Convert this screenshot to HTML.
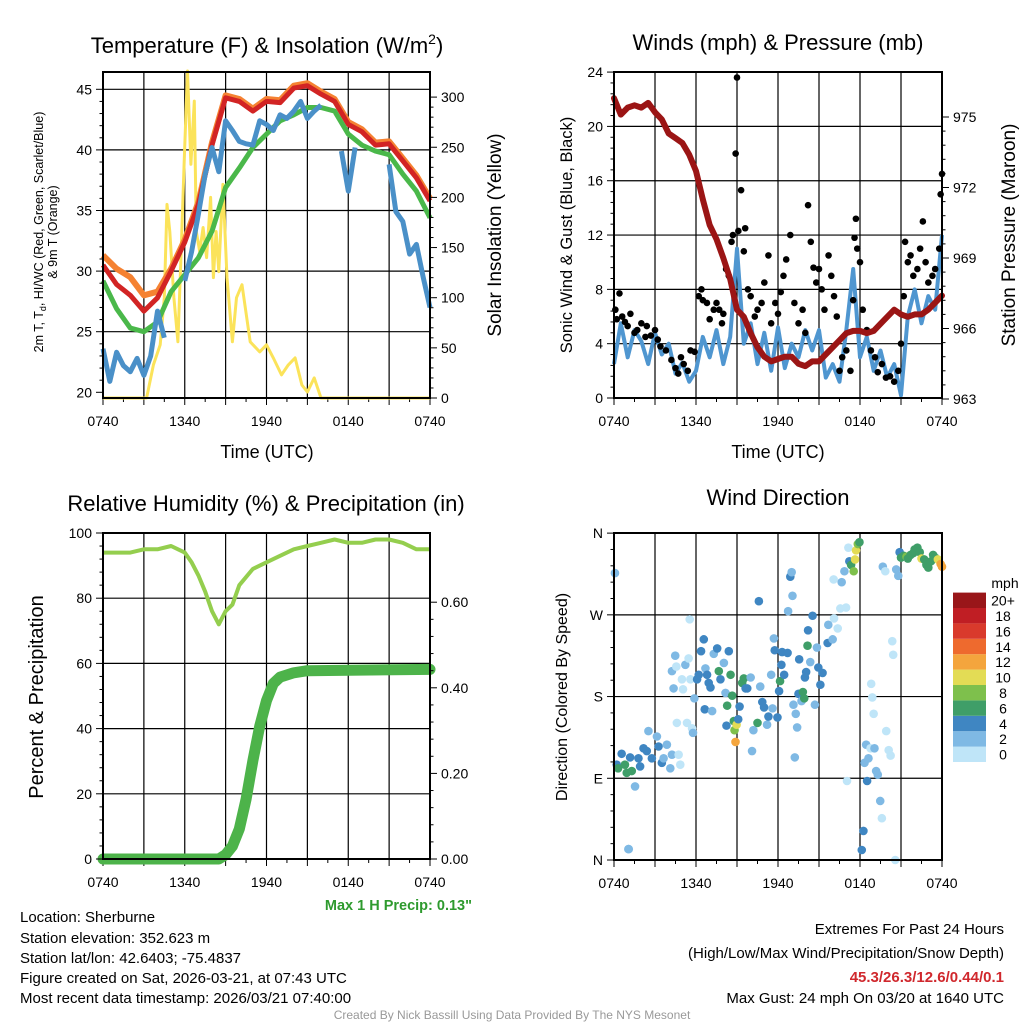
<!DOCTYPE html>
<html><head><meta charset="utf-8"><style>
body{margin:0;background:#fff}
svg{display:block;font-family:"Liberation Sans",Arial,sans-serif}
</style></head><body>
<svg id="c" width="1024" height="1024" viewBox="0 0 1024 1024" xmlns="http://www.w3.org/2000/svg">
<g id="titles" font-size="22" text-anchor="middle" fill="#000">
<text x="267" y="53">Temperature (F) &amp; Insolation (W/m<tspan dy="-9" font-size="14">2</tspan><tspan dy="9">)</tspan></text>
<text x="778" y="50">Winds (mph) &amp; Pressure (mb)</text>
<text x="266" y="511">Relative Humidity (%) &amp; Precipitation (in)</text>
<text x="778" y="505">Wind Direction</text>
</g>
<g font-size="18" text-anchor="middle">
<text x="267" y="458">Time (UTC)</text>
<text x="778" y="458">Time (UTC)</text>
<text transform="translate(43,232) rotate(-90)" font-size="12.5">2m T, T<tspan font-size="9" dy="3">d</tspan><tspan dy="-3">, HI/WC (Red, Green, Scarlet/Blue)</tspan></text>
<text transform="translate(57,232) rotate(-90)" font-size="12.5">&amp; 9m T (Orange)</text>
<text transform="translate(501,235) rotate(-90)" font-size="19">Solar Insolation (Yellow)</text>
<text transform="translate(572,235) rotate(-90)" font-size="16.5">Sonic Wind &amp; Gust (Blue, Black)</text>
<text transform="translate(1015,235) rotate(-90)" font-size="19">Station Pressure (Maroon)</text>
<text transform="translate(43,697) rotate(-90)" font-size="20">Percent &amp; Precipitation</text>
<text transform="translate(567,697) rotate(-90)" font-size="16">Direction (Colored By Speed)</text>
</g>
<g font-size="15" fill="#000">
<text x="20" y="922">Location: Sherburne</text>
<text x="20" y="943">Station elevation: 352.623 m</text>
<text x="20" y="963">Station lat/lon: 42.6403; -75.4837</text>
<text x="20" y="983">Figure created on Sat, 2026-03-21, at 07:43 UTC</text>
<text x="20" y="1003">Most recent data timestamp: 2026/03/21 07:40:00</text>
<g text-anchor="end">
<text x="1004" y="934">Extremes For Past 24 Hours</text>
<text x="1004" y="958">(High/Low/Max Wind/Precipitation/Snow Depth)</text>
<text x="1004" y="982" fill="#d0282d" font-weight="bold">45.3/26.3/12.6/0.44/0.1</text>
<text x="1004" y="1003">Max Gust: 24 mph On 03/20 at 1640 UTC</text>
<text x="472" y="910" font-size="14.5" font-weight="bold" fill="#2e9a2e">Max 1 H Precip: 0.13"</text>
</g>
<text x="512" y="1019" font-size="12" fill="#999" text-anchor="middle">Created By Nick Bassill Using Data Provided By The NYS Mesonet</text>
</g>
</svg>
<script>
// ---------- DATA ----------
const hoursGrid=[0,1,2,3,4,5,6,7,8,9,10,11,12,13,14,15,16,17,18,19,20,21,22,23,24];
const tempRed=[30.5,28.9,28.0,26.7,27.8,30.0,32.4,35.5,40.4,44.3,44.0,43.2,44.0,43.9,45.1,45.3,44.6,44.0,42.1,41.5,40.4,40.5,39.1,37.7,35.8];
const tempOrange=[31.3,30.2,29.5,28.0,28.3,30.2,32.6,35.7,40.6,44.5,44.2,43.4,44.2,44.1,45.3,45.5,44.8,44.2,42.3,41.7,40.6,40.7,39.3,37.9,36.0];
const tempGreen=[29.2,26.9,25.3,25.0,25.8,28.3,29.7,31.1,33.3,36.9,38.5,40.2,41.3,42.4,42.9,43.5,43.5,43.2,41.3,40.4,39.9,39.6,38.0,36.6,34.4];
const blueHours=[0,0.5,1,1.5,2,2.5,3,3.5,4,4.5,5,5.5,6,6.5,7,7.5,8,8.5,9,9.5,10,10.5,11,11.5,12,12.5,13,13.5,14,14.5,15,15.5,16,16.5,17,17.5,18,18.5,19,19.5,20,20.5,21,21.5,22,22.5,23,23.5,24];
const tempBlue=[23.6,20.9,23.3,22.2,21.7,22.8,21.4,23.0,26.7,24.5,null,null,29.2,31.6,34.7,38.0,40.2,38.2,42.4,41.6,40.7,40.5,40.4,42.4,42.1,41.6,42.9,42.6,43.2,44.0,42.6,43.2,43.7,null,null,39.9,36.6,40.2,null,null,null,null,38.8,34.9,34.1,31.4,32.2,29.5,27.0];
const solarHours=[0,3.2,3.7,4.2,4.5,4.7,4.9,5.2,5.5,5.7,5.95,6.2,6.45,6.7,6.85,7.1,7.35,7.6,7.9,8.1,8.3,8.5,8.8,9.1,9.5,9.8,10.2,10.8,11.5,12.0,12.5,13.1,13.6,14.1,14.6,15.0,15.5,16.0,24];
const solarValues=[0,0,33,53,100,193,166,100,56,133,233,326,233,296,166,146,170,140,200,120,166,126,213,120,56,100,113,56,46,53,40,23,33,40,13,6,20,0,0];
const windBlue=[2.5,5.5,3.0,5.0,4.2,2.5,4.8,3.2,4.0,1.8,2.6,1.2,2.0,4.5,3.0,5.0,2.5,4.5,11.0,4.0,5.5,2.5,4.8,2.0,5.2,2.2,4.0,3.0,5.0,3.5,5.0,1.5,2.5,1.2,5.0,9.5,3.0,4.5,2.0,3.5,1.5,2.5,0.2,6.0,8.0,5.5,7.5,6.5,12.0];
const pressure=[975.8,975.1,975.4,975.5,975.4,975.6,975.2,974.9,974.3,974.1,973.9,973.4,972.7,971.5,970.4,969.8,969.0,968.1,966.8,966.5,965.8,965.2,964.8,964.6,964.7,964.8,964.8,964.5,964.4,964.6,964.6,964.9,965.2,965.5,965.8,965.9,965.9,965.8,965.9,966.2,966.5,966.8,966.6,966.5,966.6,966.6,966.8,967.1,967.4];
const gustHours=[0.1,0.2,0.4,0.6,0.8,1.0,1.2,1.5,1.7,2.0,2.3,2.4,2.7,3.0,3.2,3.4,3.8,4.2,4.5,4.7,4.9,5.1,5.4,5.6,5.9,6.2,6.4,6.5,6.8,7.0,7.3,7.5,7.7,7.9,8.0,8.2,8.4,8.6,8.7,8.9,9.0,9.1,9.3,9.5,9.6,9.8,10.0,10.3,10.5,10.8,11.0,11.3,11.5,11.8,12.0,12.2,12.4,12.6,12.9,13.2,13.5,13.8,14.0,14.2,14.4,14.6,14.8,15.0,15.2,15.4,15.7,15.9,16.1,16.3,16.5,16.7,17.0,17.3,17.5,17.6,17.7,17.8,18.0,18.2,18.5,18.8,19.1,19.3,19.6,19.9,20.2,20.5,20.8,21.0,21.2,21.3,21.5,21.7,21.9,22.2,22.4,22.6,22.8,23.0,23.3,23.5,23.8,23.9,24.0];
const gustValues=[6.5,5.8,7.7,6.0,5.6,5.3,6.2,4.8,5.0,5.5,4.5,5.3,4.6,5.0,4.3,3.8,3.5,2.8,2.2,1.8,3.0,2.5,2.0,3.5,3.4,7.5,8.0,7.2,7.0,5.8,6.5,7.0,6.5,5.5,6.2,9.5,9.0,11.5,12.0,18.0,23.6,12.3,15.3,10.8,12.5,8.0,7.5,6.0,6.5,7.0,8.5,10.5,5.5,7.0,6.2,7.8,9.0,10.2,12.0,7.0,5.5,6.5,4.8,14.2,11.5,9.6,8.5,9.5,8.0,6.5,10.5,9.0,7.5,6.0,2.0,3.0,3.5,2.0,7.2,11.8,13.2,11.0,10.0,6.5,5.0,3.5,3.0,1.9,2.5,1.5,1.6,1.2,2.0,4.0,7.5,11.5,10.0,10.5,9.0,9.5,11.0,13.0,10.0,8.5,9.0,9.5,11.0,15.0,16.5];
const rhHours=[0,1,2,3,4,5,6,6.5,7,7.5,8,8.5,9,9.5,10,11,12,13,14,15,16,17,18,19,20,21,22,23,24];
const rhValues=[94,94,94,95,95,96,94,91,87,82,76,72,76,78,84,89,91,93,95,96,97,98,97,97,98,98,97,95,95];
const precipHours=[0,8.5,9,9.5,10,10.5,11,11.5,12,12.5,13,14,15,24];
const precipValues=[0,0,0.01,0.03,0.07,0.14,0.23,0.31,0.37,0.41,0.425,0.435,0.44,0.443];
const dirHours=[0.07,1.05,1.08,0.2,0.3,0.56,0.8,0.93,1.18,1.3,1.54,1.79,1.91,2.16,2.4,2.52,2.77,3.14,3.26,3.5,3.63,3.87,4.12,4.24,4.24,4.36,4.48,4.56,4.6,4.73,4.85,4.97,5.05,5.22,5.34,5.46,5.54,5.59,5.71,5.78,5.88,6.08,6.2,6.37,6.57,6.64,6.69,6.81,6.93,7.06,7.18,7.3,7.55,7.67,7.79,8.04,8.16,8.23,8.28,8.4,8.53,8.65,8.77,8.82,8.89,8.97,9.09,9.19,9.38,9.5,9.63,9.75,10.0,10.1,10.2,10.5,10.6,10.7,10.85,10.98,11.2,11.3,11.5,11.6,11.7,11.76,11.96,12.08,12.15,12.25,12.3,12.45,12.7,12.74,12.9,13.0,13.06,13.13,13.23,13.3,13.4,13.5,13.55,13.72,13.82,13.92,13.97,14.06,14.16,14.2,14.36,14.53,14.7,14.85,14.95,15.1,15.26,15.63,15.68,16.0,16.1,16.07,16.37,16.56,16.66,16.86,16.98,17.05,17.15,17.22,17.35,17.54,17.64,17.71,17.84,17.96,18.13,18.25,18.33,18.45,18.52,18.62,18.77,18.82,18.9,19.0,19.06,19.18,19.3,19.48,19.6,19.67,19.85,19.92,20.1,20.24,20.36,20.43,20.58,20.65,20.8,20.9,21.0,21.2,21.4,21.5,21.7,21.9,22.0,22.2,22.37,22.5,22.7,22.86,23.0,23.2,23.35,23.5,23.7,23.9,24.0];
const dirValues=[316,12,12,105,101,117,105,96,113,98,81,112,103,123,120,142,112,136,125,107,112,127,101,116,208,189,225,213,151,116,105,199,188,215,151,222,265,199,145,140,178,199,204,230,243,166,211,204,195,190,164,227,233,208,199,217,184,148,170,230,204,181,153,143,130,149,155,169,195,200,189,189,201,120,143,151,285,191,174,168,149,158,204,167,244,231,157,186,197,215,229,204,228,274,312,317,291,171,113,161,146,183,221,175,185,178,201,207,236,253,218,269,171,234,212,193,206,239,259,243,266,309,255,277,306,318,278,87,344,329,325,318,331,341,348,350,11,32,107,127,87,112,123,194,179,161,123,98,94,65,46,323,318,142,121,115,241,226,0,320,313,339,333,335,334,332,336,338,342,344,339,332,331,325,322,329,336,333,331,326,323];
const dirSpeeds=[2,2,2,4,6,4,6,6,4,6,2,4,4,4,4,2,4,2,4,4,2,2,2,2,2,2,2,0,0,0,0,0,0,2,0,0,0,0,0,2,2,4,4,4,4,4,2,4,4,4,2,2,4,6,4,2,2,4,6,4,6,6,6,8,12,10,4,4,6,6,4,4,2,2,2,6,4,2,4,4,2,4,2,2,2,4,4,4,6,4,4,4,4,2,4,2,2,2,2,2,2,4,4,2,6,6,4,4,6,4,2,4,2,2,4,4,4,4,2,2,0,0,0,0,2,2,0,0,0,4,6,8,10,10,8,6,4,4,2,2,4,2,0,0,0,0,2,2,2,2,0,2,0,0,0,0,0,0,0,2,2,4,6,6,8,6,6,6,6,6,6,10,6,6,6,6,6,6,10,12,12];
const timeTickLabels=["0740","1340","1940","0140","0740"];
const tempTicks=[20,25,30,35,40,45];
const solarTicks=[0,50,100,150,200,250,300];
const windTicks=[0,4,8,12,16,20,24];
const pressTicks=[963,966,969,972,975];
const rhTicks=[0,20,40,60,80,100];
const precipTicks=["0.00","0.20","0.40","0.60"];
const dirTickLabels=["N","E","S","W","N"];
const speedBins=["0","2","4","6","8","10","12","14","16","18","20+"];
const speedColors=["#bfe5f8","#7fb9e4","#3f86c2","#3f9e68","#7ec04c","#e3dc55","#f4a53d","#ee6a2e","#d93a2c","#c01e24","#991619"];

// ---------- RENDER ----------
const svg=document.getElementById('c');
const NS='http://www.w3.org/2000/svg';
function mk(tag,attrs,parent){const e=document.createElementNS(NS,tag);for(const k in attrs)e.setAttribute(k,attrs[k]);(parent||svg).appendChild(e);return e;}
const P={tl:{x0:103,x1:430,y0:72,y1:398},tr:{x0:614,x1:942,y0:72,y1:398},bl:{x0:103,x1:430,y0:533,y1:859},br:{x0:614,x1:942,y0:533,y1:860}};
function xs(p,h){return p.x0+(p.x1-p.x0)*h/24;}
const yTemp=v=>392.3-(v-20)*12.12;
const ySolar=v=>398-v*1.003;
const yWind=v=>398-v*13.58;
const yPress=v=>399-(v-963)*23.5;
const yRH=v=>859-v*3.26;
const yPrecip=v=>859-v*428;
const yDir=v=>860-v*0.908;
function path(p,hours,vals,yf){let d='',pen=false;for(let i=0;i<hours.length;i++){const v=vals[i];if(v===null){pen=false;continue;}d+=(pen?'L':'M')+xs(p,hours[i]).toFixed(1)+' '+yf(v).toFixed(1);pen=true;}return d;}

function frame(p,name,hLinesY){
  const g=mk('g',{});
  
  
  for(let h=3;h<24;h+=3){const l=mk('line',{x1:xs(p,h),x2:xs(p,h),y1:p.y0,y2:p.y1,stroke:'#000','stroke-width':1.2},g);}
  hLinesY.forEach(y=>{const l=mk('line',{x1:p.x0,x2:p.x1,y1:y,y2:y,stroke:'#000','stroke-width':1.2},g);});
  for(let h=0;h<=24;h+=1.5){const maj=(h%3===0);const t=mk('line',{x1:xs(p,h),x2:xs(p,h),y1:p.y1,y2:p.y1+(maj?7:4),stroke:'#000','stroke-width':1},g);}
  timeTickLabels.forEach((s,i)=>{const t=mk('text',{x:xs(p,i*6),y:p.y1+28,'font-size':14,'text-anchor':'middle'},g);t.textContent=s;});
  return g;
}
function border(p,name){const r=mk('rect',{x:p.x0,y:p.y0,width:p.x1-p.x0,height:p.y1-p.y0,fill:'none',stroke:'#000','stroke-width':2});}
function yAxis(p,vals,yf,side,labels,minorStep){
  vals.forEach((v,i)=>{const y=yf(v);const x=side==='l'?p.x0:p.x1;const d=side==='l'?-7:7;
    const t=mk('line',{x1:x,x2:x+d,y1:y,y2:y,stroke:'#000','stroke-width':1});
    const tx=mk('text',{x:side==='l'?x-11:x+11,y:y+5,'font-size':14,'text-anchor':side==='l'?'end':'start'});tx.textContent=labels?labels[i]:v;
    if(minorStep&&i<vals.length-1){for(let k=1;k<5;k++){const ym=yf(v+minorStep*k);const m=mk('line',{x1:x,x2:x+d/2,y1:ym,y2:ym,stroke:'#000','stroke-width':1});}}
  });
}

// Panel 1
frame(P.tl,'temperature',[25,30,35,40,45].map(yTemp));
let e;
e=mk('path',{d:path(P.tl,solarHours,solarValues,ySolar),fill:'none',stroke:'#fbe35a','stroke-width':3,'stroke-linejoin':'round'});

e=mk('path',{d:path(P.tl,hoursGrid,tempOrange,yTemp),fill:'none',stroke:'#f58232','stroke-width':6,'stroke-linejoin':'round'});

e=mk('path',{d:path(P.tl,hoursGrid,tempRed,yTemp),fill:'none',stroke:'#d22424','stroke-width':5,'stroke-linejoin':'round'});

e=mk('path',{d:path(P.tl,hoursGrid,tempGreen,yTemp),fill:'none',stroke:'#4ab84a','stroke-width':5,'stroke-linejoin':'round'});

e=mk('path',{d:path(P.tl,blueHours,tempBlue,yTemp),fill:'none',stroke:'#4a90c8','stroke-width':5,'stroke-linejoin':'round'});

border(P.tl,'temperature');
yAxis(P.tl,tempTicks,yTemp,'l',null,1);
yAxis(P.tl,solarTicks,ySolar,'r',null,10);

// Panel 2
frame(P.tr,'winds',[4,8,12,16,20].map(yWind));
e=mk('path',{d:path(P.tr,blueHours,windBlue,yWind),fill:'none',stroke:'#4f96d0','stroke-width':4,'stroke-linejoin':'round'});

gustHours.forEach((h,i)=>{const c=mk('circle',{cx:xs(P.tr,h),cy:yWind(gustValues[i]),r:3.3,fill:'#000'});

});
e=mk('path',{d:path(P.tr,blueHours,pressure,yPress),fill:'none',stroke:'#9b1515','stroke-width':6,'stroke-linejoin':'round','stroke-linecap':'round'});

border(P.tr,'winds');
yAxis(P.tr,windTicks,yWind,'l',null,0.8);
yAxis(P.tr,pressTicks,yPress,'r',null,0.6);

// Panel 3
frame(P.bl,'humidity',[20,40,60,80].map(yRH));
e=mk('path',{d:path(P.bl,rhHours,rhValues,yRH),fill:'none',stroke:'#94ce4e','stroke-width':4,'stroke-linejoin':'round'});

e=mk('path',{d:path(P.bl,precipHours,precipValues,yPrecip),fill:'none',stroke:'#4db34a','stroke-width':11,'stroke-linejoin':'round','stroke-linecap':'round'});

border(P.bl,'humidity');
yAxis(P.bl,rhTicks,yRH,'l',null,4);
yAxis(P.bl,[0,0.2,0.4,0.6],yPrecip,'r',precipTicks,0.04);

// Panel 4
frame(P.br,'direction',[90,180,270].map(yDir));
dirHours.forEach((h,i)=>{const s=dirSpeeds[i];const b=Math.min(10,Math.floor(s/2));const c=mk('circle',{cx:xs(P.br,h),cy:yDir(dirValues[i]),r:4.3,fill:speedColors[b]});

});
border(P.br,'direction');
yAxis(P.br,[0,90,180,270,360],yDir,'l',dirTickLabels,18);

// Colorbar
const cbg=mk('g',{});


e=mk('text',{x:1005,y:588,'font-size':14,'text-anchor':'middle'},cbg);e.textContent='mph';

speedBins.forEach((lab,i)=>{const y=762-(i+1)*15.4;
const r=mk('rect',{x:953,y:y,width:33,height:15.4,fill:speedColors[i]},cbg);


const t=mk('text',{x:1003,y:y+13,'font-size':14,'text-anchor':'middle'},cbg);t.textContent=lab;

});
</script>
</body></html>
